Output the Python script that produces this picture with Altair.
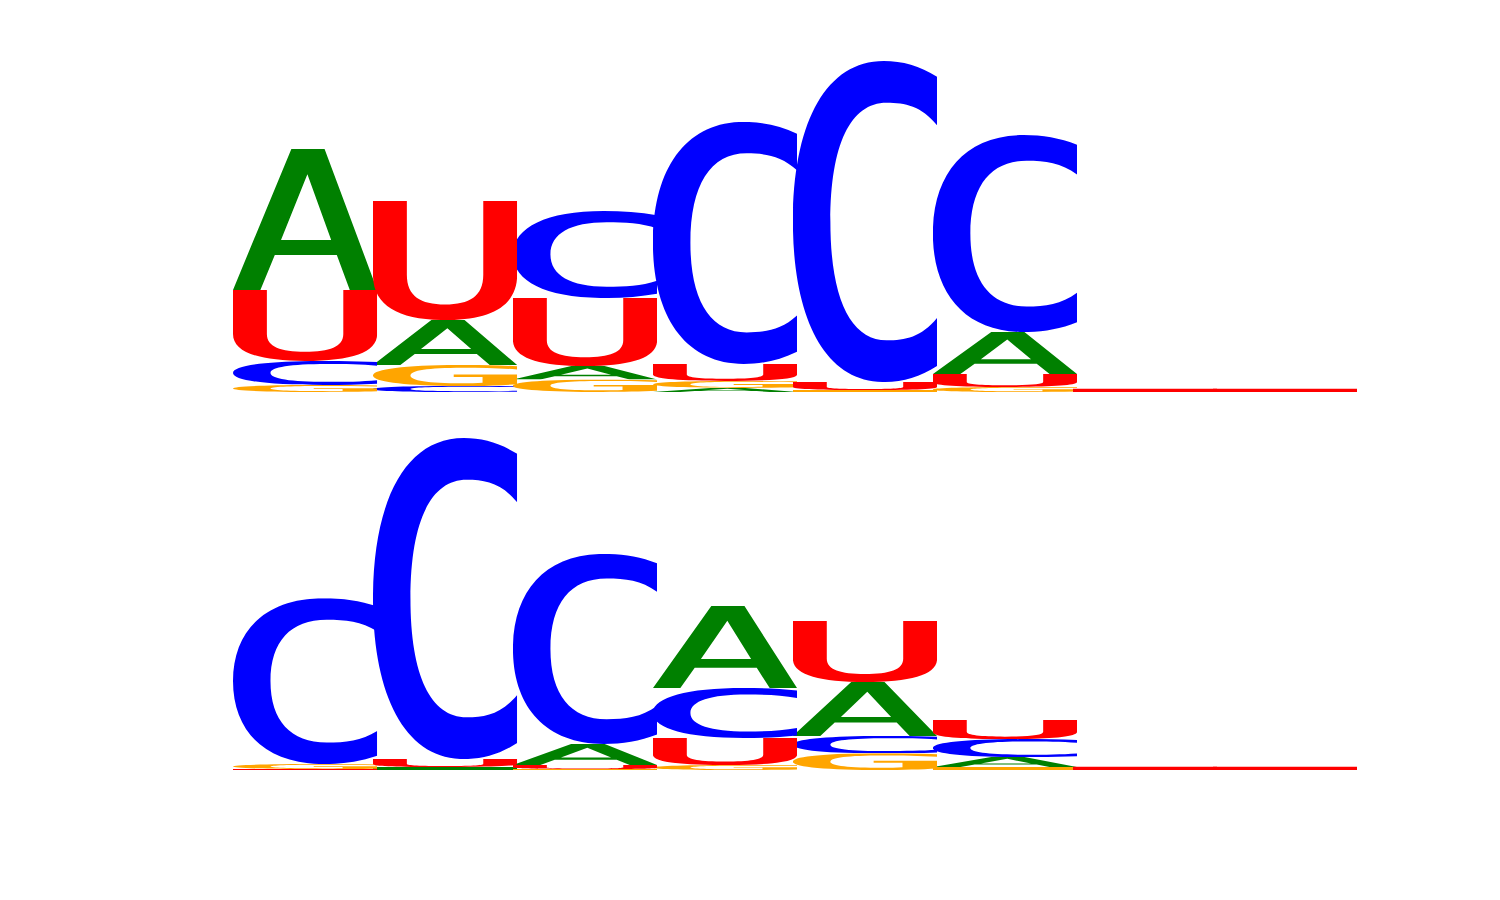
import base64

import altair as alt
import pandas as pd

# letter heights (bits) per position, two logos
positions = [1, 2, 3, 4, 5, 6, 7, 8]

top_A = [0.762, 0.243, 0.072, 0.022, 0.000, 0.227, 0.000, 0.000]
top_C = [0.130, 0.032, 0.470, 1.308, 1.735, 1.065, 0.000, 0.000]
top_G = [0.038, 0.114, 0.068, 0.038, 0.011, 0.027, 0.000, 0.000]
top_U = [0.384, 0.643, 0.368, 0.092, 0.043, 0.070, 0.019, 0.019]

bot_A = [0.000, 0.016, 0.114, 0.443, 0.292, 0.054, 0.000, 0.000]
bot_C = [0.897, 1.735, 1.027, 0.270, 0.094, 0.097, 0.000, 0.000]
bot_G = [0.027, 0.000, 0.005, 0.027, 0.090, 0.016, 0.000, 0.000]
bot_U = [0.005, 0.043, 0.022, 0.146, 0.330, 0.103, 0.019, 0.019]

colors = {"A": "#008000", "C": "#0000ff", "G": "#ffa500", "U": "#ff0000"}

# glyph outlines in a 100x100 box, stretched to fill each cell
glyphs = {
    "A": "M0,100 L40.5,0 L63.5,0 L100,100 L81,100 L72,75.3 L29,75.3 L19,100 Z "
         "M33.3,64.7 L68.1,64.7 L51.6,18 Z",
    "C": "M100,4.9 C88,1.5 76,0 63,0 C22,0 0,20 0,50 C0,80 22,100 63,100 "
         "C76,100 88,98.5 100,95 L100,80 C89,86 78,87 65,87 C40,87 26,74 26,50 "
         "C26,26 40,13 65,13 C78,13 89,14 100,20 Z",
    "G": "M100,6 C88,2 76,0 62,0 C22,0 0,20 0,50 C0,80 22,100 62,100 "
         "C76,100 89,97 100,91 L100,45 L56,45 L56,57 L76,57 L76,84 "
         "C72,87 67,87 62,87 C38,87 26,74 26,50 C26,26 38,13 62,13 "
         "C76,13 88,15 100,21 Z",
    "U": "M0,0 L23.5,0 L23.5,62 C23.5,80 33,87 50,87 C67,87 76.5,80 76.5,62 "
         "L76.5,0 L100,0 L100,62 C100,88 82,100 50,100 C18,100 0,88 0,62 Z",
}
# a letter squashed flatter than a few pixels just reads as a solid line
FLAT = "M0,0 L100,0 L100,100 L0,100 Z"


def glyph_url(letter, flat=False):
    path = FLAT if flat else glyphs[letter]
    svg = ('<svg xmlns="http://www.w3.org/2000/svg" viewBox="0 0 100 100" '
           'width="100" height="100" preserveAspectRatio="none">'
           f'<path d="{path}" fill="{colors[letter]}" fill-rule="evenodd"/></svg>')
    return "data:image/svg+xml;base64," + base64.b64encode(svg.encode()).decode()


def logo_frame(series):
    rows = []
    for letter, vals in series.items():
        for p, v in zip(positions, vals):
            rows.append({"pos": p, "letter": letter, "bits": v,
                         "url": glyph_url(letter, flat=v < 0.02)})
    return pd.DataFrame(rows)


def logo(df):
    return alt.Chart(df).transform_stack(
        stack="bits",
        groupby=["pos"],
        as_=["y0", "y1"],
        sort=[alt.SortField("bits", order="ascending")],
    ).transform_calculate(
        xl="datum.pos - 0.515",
        xr="datum.pos + 0.515",
    ).mark_image(aspect=False).encode(
        x=alt.X("xl:Q", scale=alt.Scale(domain=[0.485, 8.515]), axis=None),
        x2="xr:Q",
        y=alt.Y("y0:Q", scale=alt.Scale(domain=[0, 2]), axis=None),
        y2="y1:Q",
        url="url:N",
    ).properties(width=1124, height=370)


top = logo(logo_frame({"A": top_A, "C": top_C, "G": top_G, "U": top_U}))
bottom = logo(logo_frame({"A": bot_A, "C": bot_C, "G": bot_G, "U": bot_U}))

chart = alt.vconcat(top, bottom, spacing=8).properties(
    padding={"left": 225, "top": 14, "right": 5, "bottom": 5}
).configure_view(strokeWidth=0)

chart.save("out.html", embed_options={"renderer": "svg", "actions": False})
